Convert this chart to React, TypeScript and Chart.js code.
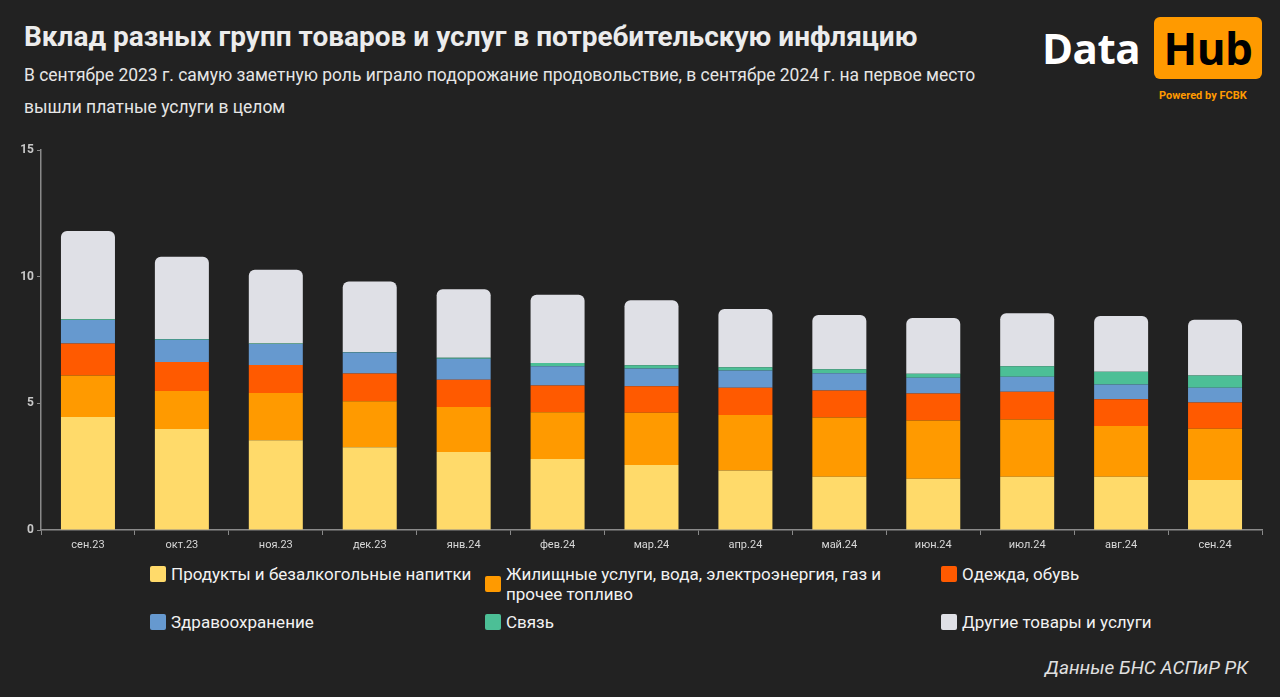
import React, { useEffect, useRef } from "react";
import { Chart, registerables } from "chart.js";

Chart.register(...registerables);

const categories = ["сен.23", "окт.23", "ноя.23", "дек.23", "янв.24", "фев.24", "мар.24", "апр.24", "май.24", "июн.24", "июл.24", "авг.24", "сен.24"];

const food = [4.46, 3.99, 3.54, 3.27, 3.08, 2.80, 2.57, 2.35, 2.10, 2.02, 2.10, 2.10, 1.97];
const housing = [1.64, 1.50, 1.87, 1.81, 1.78, 1.85, 2.06, 2.19, 2.34, 2.30, 2.26, 2.01, 2.03];
const clothing = [1.27, 1.15, 1.11, 1.10, 1.07, 1.06, 1.05, 1.08, 1.07, 1.07, 1.10, 1.05, 1.04];
const health = [0.92, 0.87, 0.83, 0.83, 0.83, 0.76, 0.70, 0.68, 0.68, 0.62, 0.59, 0.59, 0.58];
const communication = [0.03, 0.03, 0.02, 0.02, 0.04, 0.13, 0.13, 0.13, 0.16, 0.16, 0.42, 0.50, 0.48];
const other = [3.49, 3.25, 2.91, 2.78, 2.71, 2.69, 2.56, 2.30, 2.14, 2.20, 2.09, 2.20, 2.20];

const yTicks = [0, 5, 10, 15];

const seriesNames = [
  "Продукты и безалкогольные напитки",
  "Жилищные услуги, вода, электроэнергия, газ и прочее топливо",
  "Одежда, обувь",
  "Здравоохранение",
  "Связь",
  "Другие товары и услуги",
];
const seriesColors = ["#FFDA6A", "#FF9A00", "#FF5A00", "#6699CF", "#4CBF96", "#DFE0E6"];

const FONT = "Roboto, 'Noto Sans', sans-serif";

export default function App() {
  const ref = useRef<HTMLCanvasElement | null>(null);

  useEffect(() => {
    if (!ref.current) return;
    const values = [food, housing, clothing, health, communication, other];
    const chart = new Chart(ref.current, {
      type: "bar",
      data: {
        labels: categories,
        datasets: values.map((v, i) => ({
          label: seriesNames[i],
          data: v,
          backgroundColor: seriesColors[i],
          borderWidth: 0,
          borderRadius: i === 5 ? { topLeft: 6, topRight: 6, bottomLeft: 0, bottomRight: 0 } : 0,
          borderSkipped: false,
          categoryPercentage: 1,
          barPercentage: 0.575,
        })),
      },
      options: {
        animation: false,
        responsive: false,
        maintainAspectRatio: false,
        layout: { padding: { top: 9, right: 18, left: 0, bottom: 0 } },
        plugins: {
          legend: { display: false },
          tooltip: { enabled: false },
        },
        scales: {
          x: {
            stacked: true,
            grid: { drawOnChartArea: false, drawTicks: true, tickLength: 5, color: "#8a8a8a" },
            border: { display: true, color: "#8a8a8a", width: 1.5 },
            ticks: { color: "#d8d8d8", font: { family: FONT, size: 11 }, padding: 4, maxRotation: 0 },
            afterFit: (s: any) => { s.height = 30; },
          },
          y: {
            stacked: true,
            min: 0,
            max: 15,
            afterBuildTicks: (s: any) => { s.ticks = yTicks.map((v) => ({ value: v })); },
            grid: { drawOnChartArea: false, drawTicks: true, tickLength: 4, color: "#8a8a8a" },
            border: { display: true, color: "#8a8a8a", width: 1.5 },
            ticks: { color: "#c8c8c8", font: { family: FONT, size: 12, weight: "bold" }, padding: 3 },
            afterFit: (s: any) => { s.width = 41; },
          },
        },
      },
    } as any);
    return () => chart.destroy();
  }, []);

  const legendItem = (i: number, left: number, top: number, width?: number) => (
    <div key={i} style={{ position: "absolute", left, top, display: "flex", alignItems: "center", width }}>
      <div style={{ width: 16, height: 16, background: seriesColors[i], borderRadius: 2, flex: "0 0 16px", marginRight: 5 }} />
      <div style={{ color: "#f2f2f2", fontSize: 17, lineHeight: "20px" }}>{seriesNames[i]}</div>
    </div>
  );

  return (
    <div style={{ position: "absolute", left: 0, top: 0, width: 1280, height: 697, background: "#222222", fontFamily: FONT, overflow: "hidden" }}>
      <div style={{ position: "absolute", left: 24, top: 20, color: "#ececec", fontSize: 28, fontWeight: 700, whiteSpace: "nowrap" }}>
        Вклад разных групп товаров и услуг в потребительскую инфляцию
      </div>
      <div style={{ position: "absolute", left: 24, top: 59, width: 1000, color: "#e6e6e6", fontSize: 17.45, lineHeight: "32px" }}>
        В сентябре 2023 г. самую заметную роль играло подорожание продовольствие, в сентябре 2024 г. на первое место<br />вышли платные услуги в целом
      </div>
      <div style={{ position: "absolute", left: 1042, top: 22, color: "#ffffff", fontSize: 42, fontWeight: 700, lineHeight: "52px", fontFamily: "'Open Sans', Roboto, sans-serif", letterSpacing: -0.5 }}>
        Data
      </div>
      <div style={{ position: "absolute", left: 1154, top: 17, width: 108, height: 62, background: "#FF9A00", borderRadius: 6, color: "#000", fontSize: 44, fontWeight: 700, lineHeight: "62px", textAlign: "center", fontFamily: "'Open Sans', Roboto, sans-serif", letterSpacing: -0.5 }}>
        Hub
      </div>
      <div style={{ position: "absolute", left: 1159, top: 89, color: "#FF9A00", fontSize: 11, fontWeight: 700, whiteSpace: "nowrap" }}>
        Powered by FCBK
      </div>
      <canvas ref={ref} width={1280} height={420} style={{ position: "absolute", left: 0, top: 140, width: 1280, height: 420 }} />
      {legendItem(0, 150, 564)}
      {legendItem(1, 485, 564, 420)}
      {legendItem(2, 941, 564)}
      {legendItem(3, 150, 612)}
      {legendItem(4, 485, 612)}
      {legendItem(5, 941, 612)}
      <div style={{ position: "absolute", right: 32, top: 656, color: "#e0e0e0", fontSize: 19, fontStyle: "italic", whiteSpace: "nowrap" }}>
        Данные БНС АСПиР РК
      </div>
    </div>
  );
}
